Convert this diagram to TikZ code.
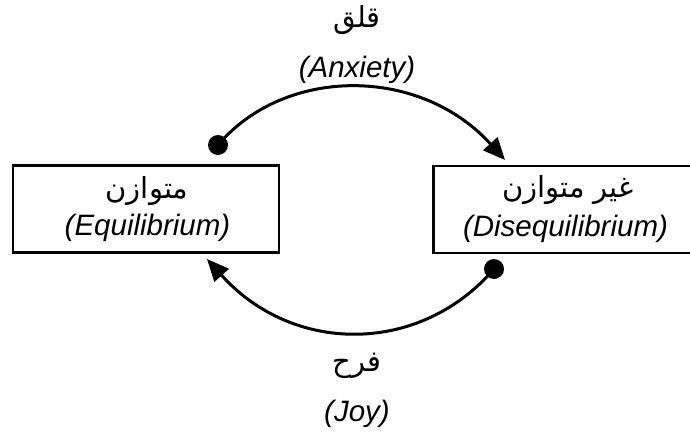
\documentclass[tikz,border=0pt]{standalone}
\usepackage{fontspec}
\setmainfont{Liberation Sans}
\newfontfamily\arabicfont[Script=Arabic]{DejaVu Sans}
\TeXXeTstate=1
\usetikzlibrary{arrows.meta}
\begin{document}
\begin{tikzpicture}[x=1pt,y=-1pt,
  boxstyle/.style={draw, line width=2.8pt, inner sep=0pt},
  lat/.style={font=\fontsize{29.5}{31}\selectfont\itshape, inner sep=0pt},
  arb/.style={font=\fontsize{29}{32}\selectfont\arabicfont, inner sep=0pt},
  dotstyle/.style={circle, fill=black, minimum size=20pt, inner sep=0pt},
  arc/.style={line width=3pt, -{Triangle[length=22pt,width=19pt]}}]
\useasboundingbox (0,0) rectangle (690,434);
\clip (0,0) rectangle (690,434);
\fill[white] (0,0) rectangle (690,434);
% boxes
\node[boxstyle, minimum width=266pt, minimum height=87pt] (eq) at (146,209) {};
\node[boxstyle, minimum width=268pt, minimum height=87pt, anchor=west] (dis) at (432,209.5) {};
% texts
\node[arb] (ar1) at (357,20) {\beginR قلق\endR};
\node[lat] (en1) at (357,70) {(Anxiety)};
\node[arb] (ar2) at (147,191) {\beginR متوازن\endR};
\node[lat] (en2) at (147.5,228) {(Equilibrium)};
\node[arb] (ar3) at (568,190) {\beginR غير متوازن\endR};
\node[lat] (en3) at (565.5,229) {(Disequilibrium)};
\node[arb] (ar4) at (357,366) {\beginR فرح\endR};
\node[lat] (en4) at (357,414) {(Joy)};
% connectors
\node[dotstyle] (d1) at (218,145) {};
\node[dotstyle] (d2) at (494,269) {};
\coordinate (t1) at (505,160);
\coordinate (t2) at (207,259);
\draw[arc] (d1.center) .. controls (285,66) and (420,66) .. (t1);
\draw[arc] (d2.center) .. controls (420,355) and (293,355) .. (t2);
\end{tikzpicture}
\end{document}
